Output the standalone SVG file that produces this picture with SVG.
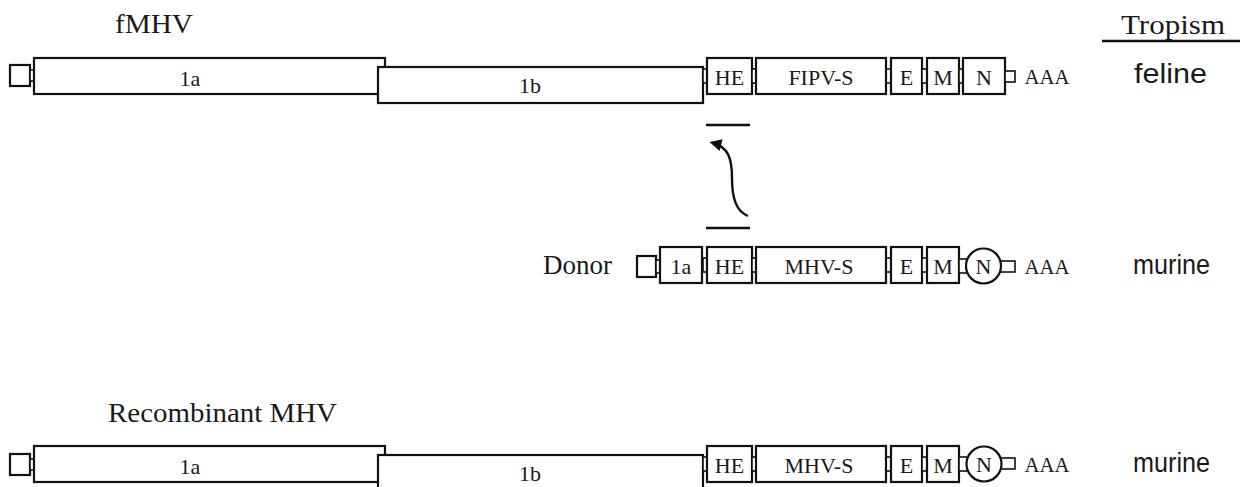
<svg xmlns="http://www.w3.org/2000/svg" width="1247" height="487" viewBox="0 0 1247 487">
  <defs>
    <style>
      .box { fill: #fff; stroke: #111; stroke-width: 2.2; }
      .lnk { fill: #fff; stroke: #111; stroke-width: 1.6; }
      .line { fill: none; stroke: #111; stroke-width: 2.4; }
      .lbl { font-family: "Liberation Serif", "Times New Roman", serif; font-size: 22px; fill: #1a1a1a; text-anchor: middle; }
      .title { font-family: "Liberation Serif", "Times New Roman", serif; font-size: 27px; fill: #1a1a1a; }
      .trop { font-family: "Liberation Sans", Arial, sans-serif; font-size: 27px; fill: #1a1a1a; }
    </style>
    <marker id="head" viewBox="0 0 10 10" refX="7" refY="5" markerWidth="6" markerHeight="5" orient="auto" markerUnits="strokeWidth">
      <path d="M0,0 L10,5 L0,10 Z" fill="#111"/>
    </marker>
    <!-- structural genes HE..M, shared by all rows (row origin = box top) -->
    <g id="tailGenes">
      <rect class="lnk" x="703" y="11" width="4" height="14"/>
      <rect class="box" x="707" y="0" width="45" height="36"/>
      <text class="lbl" x="729.5" y="27">HE</text>
      <rect class="lnk" x="752" y="11" width="4" height="14"/>
      <rect class="lnk" x="886" y="11" width="5" height="14"/>
      <rect class="box" x="891" y="0" width="31" height="36"/>
      <text class="lbl" x="906.5" y="27">E</text>
      <rect class="lnk" x="922" y="11" width="5" height="14"/>
      <rect class="box" x="927" y="0" width="32" height="36"/>
      <text class="lbl" x="943" y="27">M</text>
    </g>
  </defs>

  <!-- column header -->
  <g id="header">
    <text class="title" x="1121" y="34" textLength="104" lengthAdjust="spacingAndGlyphs">Tropism</text>
    <line class="line" x1="1102" y1="41" x2="1240" y2="41"/>
  </g>

  <!-- fMHV genome -->
  <g id="fmhv">
    <text class="title" x="115" y="33" textLength="78" lengthAdjust="spacingAndGlyphs">fMHV</text>
    <rect class="box" x="10" y="65" width="20" height="21"/>
    <rect class="lnk" x="30" y="70" width="4" height="11"/>
    <rect class="box" x="34" y="58" width="351" height="36"/>
    <text class="lbl" x="190" y="86">1a</text>
    <rect class="box" x="378" y="67" width="325" height="36"/>
    <text class="lbl" x="530" y="93">1b</text>
    <use href="#tailGenes" x="0" y="58"/>
    <rect class="box" x="756" y="58" width="130" height="36"/>
    <text class="lbl" x="821" y="85">FIPV-S</text>
    <rect class="lnk" x="959" y="69" width="4" height="14"/>
    <rect class="box" x="963" y="58" width="42" height="36"/>
    <text class="lbl" x="984" y="85">N</text>
    <rect class="lnk" x="1005" y="71" width="10" height="11"/>
    <text class="lbl" x="1047" y="84" textLength="45" lengthAdjust="spacingAndGlyphs">AAA</text>
    <text class="trop" x="1134" y="83" textLength="73" lengthAdjust="spacingAndGlyphs">feline</text>
  </g>

  <!-- recombination event -->
  <g id="connectors">
    <line class="line" x1="706" y1="125" x2="750" y2="125"/>
    <line class="line" x1="706" y1="228" x2="750" y2="228"/>
    <path class="line" d="M748,216 C736,211 732,198 732,178 C732,158 728,147 713,143" marker-end="url(#head)"/>
  </g>

  <!-- Donor RNA -->
  <g id="donor">
    <text class="title" x="612" y="274" text-anchor="end">Donor</text>
    <rect class="box" x="637" y="256" width="19" height="21"/>
    <rect class="lnk" x="656" y="260" width="4" height="13"/>
    <rect class="box" x="660" y="247" width="42" height="36"/>
    <text class="lbl" x="681" y="274">1a</text>
    <use href="#tailGenes" x="0" y="247"/>
    <rect class="box" x="756" y="247" width="130" height="36"/>
    <text class="lbl" x="819" y="274">MHV-S</text>
    <rect class="lnk" x="959" y="259" width="8" height="14"/>
    <rect class="lnk" x="999" y="261" width="16" height="11"/>
    <circle class="box" cx="983.5" cy="266" r="17.5"/>
    <text class="lbl" x="983.5" y="274">N</text>
    <text class="lbl" x="1047" y="274" textLength="45" lengthAdjust="spacingAndGlyphs">AAA</text>
    <text class="trop" x="1133" y="274" textLength="77" lengthAdjust="spacingAndGlyphs">murine</text>
  </g>

  <!-- Recombinant MHV genome -->
  <g id="recombinant">
    <text class="title" x="108" y="422" textLength="229" lengthAdjust="spacingAndGlyphs">Recombinant MHV</text>
    <rect class="box" x="10" y="454" width="20" height="21"/>
    <rect class="lnk" x="30" y="459" width="4" height="11"/>
    <rect class="box" x="34" y="446" width="351" height="36"/>
    <text class="lbl" x="190" y="474">1a</text>
    <rect class="box" x="378" y="455" width="325" height="36"/>
    <text class="lbl" x="530" y="481">1b</text>
    <use href="#tailGenes" x="0" y="446"/>
    <rect class="box" x="756" y="446" width="130" height="36"/>
    <text class="lbl" x="819" y="473">MHV-S</text>
    <rect class="lnk" x="959" y="457" width="8" height="14"/>
    <rect class="lnk" x="999" y="458" width="16" height="11"/>
    <circle class="box" cx="984" cy="464" r="17.5"/>
    <text class="lbl" x="984" y="472">N</text>
    <text class="lbl" x="1047" y="472" textLength="45" lengthAdjust="spacingAndGlyphs">AAA</text>
    <text class="trop" x="1133" y="472" textLength="77" lengthAdjust="spacingAndGlyphs">murine</text>
  </g>
</svg>
